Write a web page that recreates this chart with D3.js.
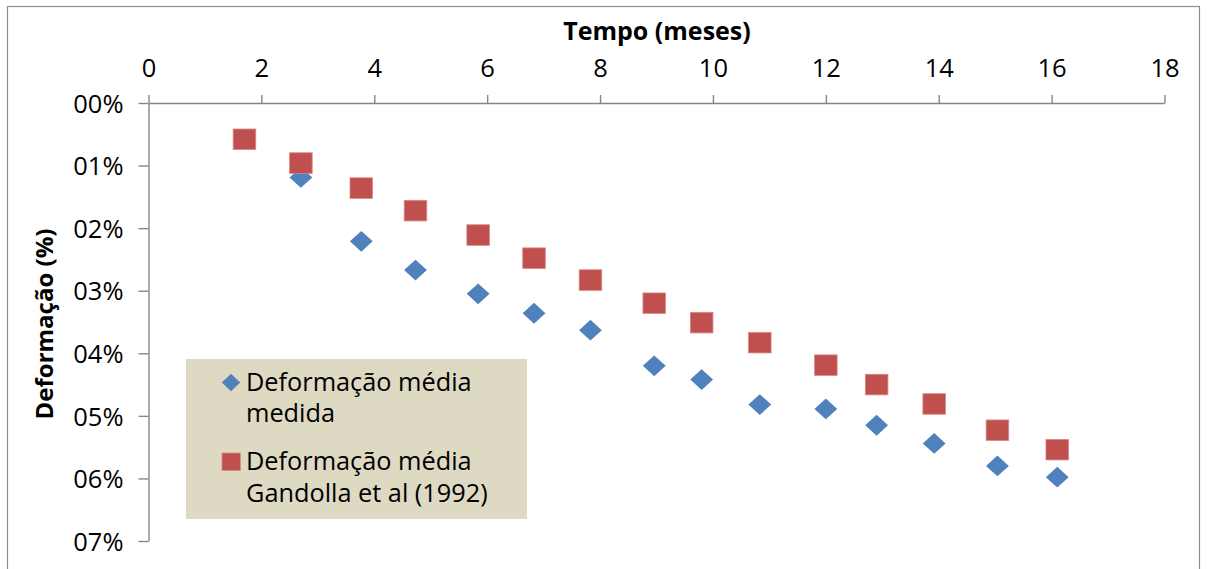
<!DOCTYPE html>
<html>
<head>
<meta charset="utf-8">
<script src="https://cdn.jsdelivr.net/npm/d3@7"></script>
<style>
  html, body { margin: 0; padding: 0; background: #ffffff; }
  svg { display: block; font-family: "Open Sans", "Noto Sans", sans-serif; }
</style>
</head>
<body>
<svg id="chart" width="1208" height="569"></svg>
<script>
// Tempo (meses) e deformação média (%) — medida
const measuredMonths = [2.70, 3.77, 4.73, 5.84, 6.83, 7.83, 8.96, 9.80, 10.83, 12.00, 12.90, 13.92, 15.04, 16.10];
const measuredStrain = [1.19, 2.21, 2.67, 3.05, 3.36, 3.63, 4.20, 4.42, 4.82, 4.89, 5.15, 5.44, 5.80, 5.98];

// Deformação média segundo Gandolla et al (1992)
const gandollaMonths = [1.70, 2.70, 3.77, 4.73, 5.84, 6.83, 7.83, 8.96, 9.80, 10.83, 12.00, 12.90, 13.92, 15.04, 16.10];
const gandollaStrain = [0.58, 0.96, 1.36, 1.72, 2.11, 2.48, 2.83, 3.20, 3.51, 3.83, 4.19, 4.50, 4.81, 5.23, 5.54];

// Eixos
const xTickValues = [0, 2, 4, 6, 8, 10, 12, 14, 16, 18];
const yTickValues = [0, 1, 2, 3, 4, 5, 6, 7];
const yTickLabels = ["00%", "01%", "02%", "03%", "04%", "05%", "06%", "07%"];

const seriesNames = [
  ["Deformação média", "medida"],
  ["Deformação média", "Gandolla et al (1992)"]
];

const BLUE = "#4f81bd";
const RED = "#c0504d";
const AXIS = "#868686";

const svg = d3.select("#chart");

// Moldura do gráfico
svg.append("rect")
  .attr("x", 7.5).attr("y", 6.5)
  .attr("width", 1192).attr("height", 620)
  .attr("fill", "#ffffff")
  .attr("stroke", "#8c8c8c")
  .attr("stroke-width", 1.2);

const x = d3.scaleLinear().domain([0, 18]).range([148.5, 1164.5]);
const y = d3.scaleLinear().domain([0, 7]).range([103, 541]);

// Eixo X no topo
const xAxis = svg.append("g")
  .attr("transform", `translate(0,${y(0)})`)
  .call(d3.axisTop(x).tickValues(xTickValues).tickSize(8).tickSizeOuter(0).tickPadding(18));

// Eixo Y à esquerda (invertido)
const yAxis = svg.append("g")
  .attr("transform", `translate(${x(0)},0)`)
  .call(d3.axisLeft(y).tickValues(yTickValues).tickFormat((d, i) => yTickLabels[i])
        .tickSize(10).tickSizeOuter(0).tickPadding(15));

[xAxis, yAxis].forEach(g => {
  g.select(".domain").attr("stroke", AXIS).attr("stroke-width", 1.4);
  g.selectAll(".tick line").attr("stroke", AXIS).attr("stroke-width", 1.4);
  g.selectAll(".tick text")
    .attr("fill", "#000")
    .style("font-family", "\"Open Sans\", sans-serif")
    .style("font-size", "25.5px");
});
yAxis.selectAll(".tick text").attr("dy", "0.36em");

// Títulos dos eixos
svg.append("text")
  .attr("x", 657).attr("y", 39.5)
  .attr("text-anchor", "middle")
  .style("font-size", "25px").style("font-weight", "bold")
  .attr("fill", "#000")
  .text("Tempo (meses)");

svg.append("text")
  .attr("transform", `translate(53,${324}) rotate(-90)`)
  .attr("text-anchor", "middle")
  .style("font-size", "24px").style("font-weight", "bold")
  .attr("fill", "#000")
  .text("Deformação (%)");

// Marcadores
const diamond = (hw, hh) => `M0,${-hh}L${hw},0L0,${hh}L${-hw},0Z`;

const measured = measuredMonths.map((m, i) => ({ m, v: measuredStrain[i] }));
const gandolla = gandollaMonths.map((m, i) => ({ m, v: gandollaStrain[i] }));

svg.append("g").selectAll("path")
  .data(measured).join("path")
  .attr("transform", d => `translate(${x(d.m)},${y(d.v)})`)
  .attr("d", diamond(11.4, 10.4))
  .attr("fill", BLUE);

svg.append("g").selectAll("rect")
  .data(gandolla).join("rect")
  .attr("x", d => x(d.m) - 11.3)
  .attr("y", d => y(d.v) - 10.3)
  .attr("width", 22.6).attr("height", 20.6)
  .attr("fill", RED)
  .attr("stroke", "#d98b89")
  .attr("stroke-width", 0.8);

// Legenda
const legend = svg.append("g");
legend.append("rect")
  .attr("x", 186).attr("y", 359)
  .attr("width", 341).attr("height", 160)
  .attr("fill", "#ddd9c3");

legend.append("path")
  .attr("transform", "translate(231,382.5)")
  .attr("d", diamond(9.2, 8.8))
  .attr("fill", BLUE);

legend.append("rect")
  .attr("x", 222).attr("y", 453)
  .attr("width", 18.4).attr("height", 17.6)
  .attr("fill", RED)
  .attr("stroke", "#d98b89").attr("stroke-width", 0.8);

const lineBaselines = [[391, 422], [470, 501.5]];
seriesNames.forEach((lines, si) => {
  lines.forEach((t, li) => {
    legend.append("text")
      .attr("x", 246).attr("y", lineBaselines[si][li])
      .style("font-size", "25.3px")
      .attr("fill", "#000")
      .text(t);
  });
});
</script>
</body>
</html>
